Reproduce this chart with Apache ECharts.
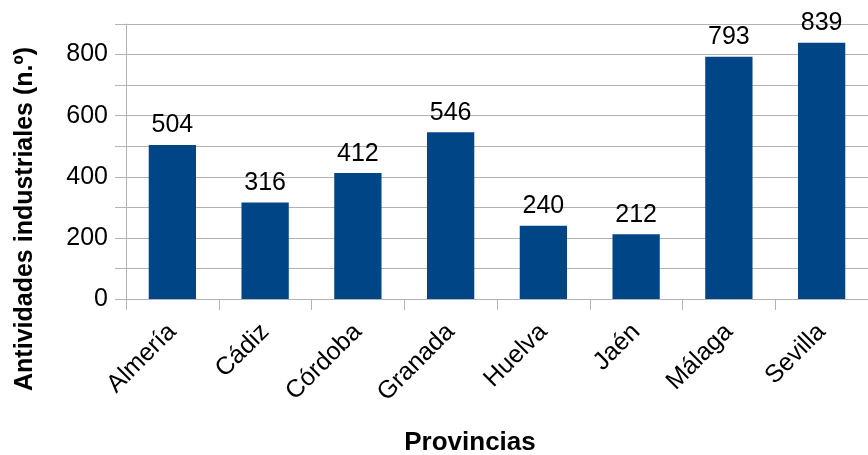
<!DOCTYPE html>
<html><head><meta charset="utf-8">
<script src="https://cdn.jsdelivr.net/npm/echarts@6/dist/echarts.min.js"></script>
<style>html,body{margin:0;padding:0;background:#fff}#c{width:868px;height:455px}</style>
</head><body><div id="c"></div>
<script>
const categories = ['Almería','Cádiz','Córdoba','Granada','Huelva','Jaén','Málaga','Sevilla'];
const values = [504, 316, 412, 546, 240, 212, 793, 839];
const yAxisTitle = 'Antividades industriales (n.º)';
const xAxisTitle = 'Provincias';

const chart = echarts.init(document.getElementById('c'), null, {renderer:'canvas'});
const font = 'Liberation Sans, Arial, sans-serif';
chart.setOption({
  animation: false,
  grid: {left: 126, right: 0, top: 24, bottom: 156},
  xAxis: {
    type: 'category', data: categories,
    axisLine: {lineStyle: {color: '#b3b3b3', width: 1}},
    axisTick: {show: true, length: 11, lineStyle: {color: '#b3b3b3'}},
    axisLabel: {rotate: 45, fontSize: 25, color: '#000', fontFamily: font, margin: 29},
    splitLine: {show: false}
  },
  yAxis: {
    type: 'value', min: 0, max: 900, interval: 100,
    axisLine: {show: true, lineStyle: {color: '#b3b3b3'}},
    axisTick: {show: true, length: 11, lineStyle: {color: '#b3b3b3'}},
    axisLabel: {fontSize: 25, color: '#000', fontFamily: font, margin: 18,
      formatter: v => (v % 200 === 0 ? String(v) : '')},
    splitLine: {show: true, lineStyle: {color: '#b3b3b3', width: 1}}
  },
  series: [{
    type: 'bar', data: values, barWidth: '51%',
    itemStyle: {color: '#004586'},
    label: {show: true, position: 'top', distance: 7, fontSize: 25, color: '#000', fontFamily: font}
  }],
  graphic: [
    {type: 'text', x: 25, y: 219, rotation: Math.PI/2,
     style: {text: yAxisTitle, font: 'bold 25px ' + font, fill: '#000', textAlign: 'center', textVerticalAlign: 'middle'}, z: 10},
    {type: 'text', x: 470, y: 443,
     style: {text: xAxisTitle, font: 'bold 26px ' + font, fill: '#000', textAlign: 'center', textVerticalAlign: 'middle'}}
  ]
});
</script></body></html>
